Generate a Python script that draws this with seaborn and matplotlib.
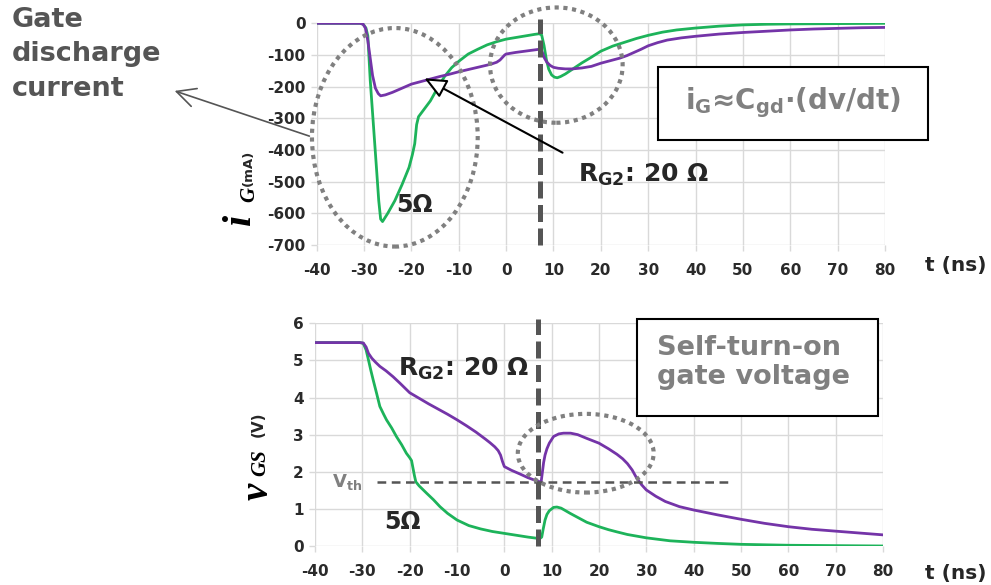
import matplotlib
matplotlib.use("Agg")
import matplotlib.pyplot as plt
import seaborn as sns
import pandas as pd
from matplotlib.patches import Ellipse, Rectangle, FancyArrowPatch

# ---- gate current i_G (mA) ----
t_ig_5 = [-40, -30.8, -30.2, -29.6, -29.2, -28.7, -28.0, -27.3, -26.9, -26.5, -26.1, -25.0,
          -23.5, -22.0, -20.5, -19.8, -19.3, -18.9, -18.5, -17.5, -16.0, -14.5, -13.0, -11.5,
          -10.0, -8.0, -6.0, -4.0, -2.0, 0.0, 2.0, 4.0, 6.0, 7.0, 7.5, 8.0, 8.5, 9.0, 9.6,
          10.2, 10.8, 11.5, 12.5, 14.0, 16.0, 18.0, 20.0, 22.5, 25.0, 27.5, 30.0, 33, 36, 40,
          45, 50, 55, 60, 70, 80]
ig_5 = [0, 0, -3, -15, -40, -179, -326, -474, -560, -618, -626, -600, -560, -510, -455,
        -415, -380, -320, -295, -275, -245, -205, -168, -140, -120, -97, -82, -68, -58, -50,
        -45, -40, -35, -33, -37, -70, -115, -145, -163, -170, -172, -168, -160, -145, -125,
        -107, -88, -72, -60, -48, -38, -28, -21, -15, -9, -5, -3, -2, -1, 0]

t_ig_20 = [-40, -30.8, -30.2, -29.7, -29.2, -28.7, -28.2, -27.6, -27.0, -26.5, -25.5, -24,
           -22, -20, -18, -16, -14, -12, -10, -8, -6, -4, -3, -2, -1.3, -0.8, -0.3, 0, 2, 4,
           6, 7.0, 7.6, 8.1, 8.6, 9.3, 10, 11, 12.5, 14, 16, 18, 20, 22, 24, 25.5, 27, 28.5,
           30, 32, 34, 37, 40, 45, 50, 55, 60, 65, 70, 75, 80]
ig_20 = [0, 0, -3, -15, -55, -110, -165, -205, -222, -229, -226, -218, -205, -192, -184,
         -176, -168, -161, -153, -146, -139, -132, -128, -123, -116, -108, -100, -97, -92,
         -88, -84, -82, -90, -110, -123, -133, -139, -142, -144, -144, -141, -136, -126,
         -118, -110, -102, -92, -82, -71, -61, -53, -46, -41, -34, -29, -25, -21, -18, -16,
         -14, -13]

# ---- gate-source voltage v_GS (V) ----
t_vgs_5 = [-40, -30.5, -29.8, -29.2, -28.7, -28.2, -27.7, -27.0, -26.3, -25.5, -24.9, -23.8,
           -22.8, -21.7, -20.7, -20.0, -19.6, -19.3, -19.0, -18.7, -18.0, -17.2, -16.4, -15.0,
           -13.6, -12.0, -10.0, -7.5, -5.0, -2.5, 0, 2.5, 5.0, 6.8, 7.5, 7.9, 8.2, 8.6, 9.0,
           9.5, 10.4, 11.1, 12.0, 13.9, 15.5, 17.4, 20, 22, 23.8, 26, 30, 35, 40, 45, 50, 60,
           70, 80]
vgs_5 = [5.48, 5.48, 5.46, 5.28, 5.01, 4.73, 4.47, 4.12, 3.76, 3.55, 3.40, 3.18, 2.95, 2.73,
         2.50, 2.38, 2.30, 2.10, 1.90, 1.73, 1.62, 1.52, 1.42, 1.25, 1.06, 0.88, 0.70, 0.55,
         0.46, 0.39, 0.34, 0.29, 0.24, 0.21, 0.20, 0.24, 0.45, 0.70, 0.85, 0.95, 1.04, 1.05,
         1.02, 0.88, 0.77, 0.64, 0.52, 0.44, 0.38, 0.31, 0.22, 0.14, 0.10, 0.07, 0.045, 0.02,
         0.01, 0.0]

t_vgs_20 = [-40, -30.5, -29.8, -29.2, -28.7, -28.0, -27.2, -26.3, -25, -23.5, -22, -20, -18,
            -16, -14, -12, -10, -8, -6, -4, -3, -2, -1.3, -0.8, -0.4, 0, 1.5, 3.3, 5, 6.5,
            7.4, 7.8, 8.0, 8.3, 8.6, 9.0, 9.5, 10.4, 11.5, 12.5, 14, 15.5, 17.4, 20, 22, 23.8,
            25, 26, 27, 28, 29, 30, 32, 34, 37, 40, 45, 50, 55, 60, 65, 70, 75, 80]
vgs_20 = [5.48, 5.48, 5.47, 5.36, 5.19, 5.06, 4.95, 4.84, 4.72, 4.56, 4.38, 4.13, 3.98, 3.83,
          3.69, 3.55, 3.40, 3.24, 3.07, 2.88, 2.78, 2.67, 2.57, 2.45, 2.28, 2.14, 2.04, 1.94,
          1.84, 1.77, 1.73, 1.75, 1.95, 2.25, 2.45, 2.62, 2.77, 2.95, 3.02, 3.04, 3.04, 3.00,
          2.90, 2.77, 2.62, 2.47, 2.35, 2.22, 2.05, 1.82, 1.65, 1.51, 1.34, 1.20, 1.06, 0.97,
          0.84, 0.72, 0.61, 0.52, 0.45, 0.40, 0.35, 0.30]

x_ticks = list(range(-40, 81, 10))
ig_ticks = list(range(-700, 1, 100))
vgs_ticks = list(range(0, 7))

switch_t = 7.2      # time of the switching event (ns)
v_th = 1.73         # threshold voltage (V)

GREEN = "#1db35a"
PURPLE = "#7434a8"
DARK = "#555555"
GREY = "#808080"
GRID = "#d9d9d9"

sns.set_theme(style="whitegrid")
plt.rcParams["font.family"] = ["DejaVu Sans"]
plt.rcParams["mathtext.fontset"] = "dejavusans"
plt.rcParams["axes.unicode_minus"] = False

W, H = 991, 585
fig = plt.figure(figsize=(W / 100, H / 100), dpi=100)
fig.patch.set_facecolor("white")


def box(l, t, r, b):
    return [l / W, 1 - b / H, (r - l) / W, (b - t) / H]


def P(x, y):
    return (x / W, 1 - y / H)


ax1 = fig.add_axes(box(316.7, 23.3, 885, 245))
ax2 = fig.add_axes(box(315, 323.3, 883, 546))

df_ig = pd.concat([
    pd.DataFrame({"t": t_ig_5, "v": ig_5, "R": "5"}),
    pd.DataFrame({"t": t_ig_20, "v": ig_20, "R": "20"}),
])
df_vgs = pd.concat([
    pd.DataFrame({"t": t_vgs_5, "v": vgs_5, "R": "5"}),
    pd.DataFrame({"t": t_vgs_20, "v": vgs_20, "R": "20"}),
])

for ax, df in ((ax1, df_ig), (ax2, df_vgs)):
    sns.lineplot(data=df, x="t", y="v", hue="R", palette={"5": GREEN, "20": PURPLE},
                 hue_order=["5", "20"], estimator=None, sort=False, lw=2.0, ax=ax,
                 legend=False, zorder=3)
    ax.set_xlim(-40, 80)
    ax.set_xticks(x_ticks)
    ax.set_xlabel("")
    ax.set_ylabel("")
    ax.set_facecolor("white")
    ax.grid(True, color=GRID, lw=1.0)
    for s in ax.spines.values():
        s.set_visible(False)
    ax.tick_params(axis="both", which="both", length=4, width=1, color=GRID,
                   labelsize=11, labelcolor="#2a2a2a")
    ax.tick_params(axis="x", pad=9, bottom=True)
    ax.tick_params(axis="y", pad=4, left=True)

ax1.set_ylim(-700, 0)
ax1.set_yticks(ig_ticks)
ax2.set_ylim(0, 6)
ax2.set_yticks(vgs_ticks)
for ax in (ax1, ax2):
    for lab in ax.get_xticklabels() + ax.get_yticklabels():
        lab.set_fontweight("bold")

# switching instant
for ax in (ax1, ax2):
    ax.axvline(switch_t, ymin=0, ymax=1.02, color=DARK, lw=3.6, ls=(0, (3.4, 1.3)),
               clip_on=False, zorder=6)

# threshold voltage level
ax2.plot([-27, 48], [v_th, v_th], color=DARK, lw=1.8, ls=(0, (3.5, 2.2)), zorder=4)

# dotted highlight ellipses
dot = dict(fill=False, ec=GREY, lw=3.0, ls=(0, (1, 1.1)), clip_on=False, zorder=7)
ax1.add_patch(Ellipse((-23.5, -360), 35, 690, **dot))
ax1.add_patch(Ellipse((10.6, -132), 28, 364, **dot))
ax2.add_patch(Ellipse((17.2, 2.50), 28.7, 2.12, **dot))

# axis titles
serif = dict(family="Liberation Serif", weight="bold", style="italic", rotation=90,
             ha="center", va="center", color="black")
fig.text(*P(240, 219), "i", fontsize=29, **serif)
fig.text(*P(249, 194), "G", fontsize=15, **serif)
fig.text(*P(248, 168), "(mA)", fontsize=9.5, fontweight="bold", rotation=90,
         ha="center", va="center")
fig.text(*P(258, 491), "v", fontsize=28, **serif)
fig.text(*P(260, 463), "GS", fontsize=15, **serif)
fig.text(*P(258, 424), "(V)", fontsize=11, fontweight="bold", rotation=90,
         ha="center", va="center")

for y in (266, 573):
    fig.text(*P(956, y), "t (ns)", fontsize=14.5, fontweight="bold", ha="center", va="center")

# top panel annotations
fig.text(*P(12, 27), "Gate", fontsize=19.5, fontweight="bold", color=DARK, va="baseline")
fig.text(*P(12, 61), "discharge", fontsize=19.5, fontweight="bold", color=DARK, va="baseline")
fig.text(*P(12, 96), "current", fontsize=19.5, fontweight="bold", color=DARK, va="baseline")
fig.add_artist(FancyArrowPatch(P(312, 137), P(172, 90), transform=fig.transFigure,
                               arrowstyle="->,head_length=0.9,head_width=0.45",
                               mutation_scale=15, color=DARK, lw=1.2, zorder=8))

fig.text(*P(578, 182), r"R$_{\mathbf{G2}}$: 20 Ω", fontsize=18, fontweight="bold",
         va="baseline", ha="left")
fig.add_artist(FancyArrowPatch(P(565, 154), P(422, 77), transform=fig.transFigure,
                               arrowstyle="-|>,head_length=0.9,head_width=0.4",
                               mutation_scale=15, ec="black", fc="white", lw=1.5, zorder=8))
fig.text(*P(414, 205), "5Ω", fontsize=17, fontweight="bold", ha="center", va="center")

fig.add_artist(Rectangle(P(658, 140), (928 - 658) / W, (140 - 67) / H,
                         transform=fig.transFigure, fill=True, fc="white", ec="black",
                         lw=1.5, zorder=8))
fig.text(*P(793, 103), r"i$_{\mathbf{G}}$≈C$_{\mathbf{gd}}$·(dv/dt)", fontsize=20,
         fontweight="bold", color=GREY, ha="center", va="center", zorder=9)

# bottom panel annotations
fig.text(*P(398, 376), r"R$_{\mathbf{G2}}$: 20 Ω", fontsize=18, fontweight="bold",
         va="baseline", ha="left")
fig.text(*P(402, 522), "5Ω", fontsize=17, fontweight="bold", ha="center", va="center")
fig.text(*P(332, 487), r"V$_{\mathregular{th}}$", fontsize=13, fontweight="bold",
         color=GREY, va="baseline", ha="left")

fig.add_artist(Rectangle(P(637, 416), (878 - 637) / W, (416 - 319) / H,
                         transform=fig.transFigure, fill=True, fc="white", ec="black",
                         lw=1.5, zorder=8))
fig.text(*P(657, 355), "Self-turn-on", fontsize=19.5, fontweight="bold", color=GREY,
         va="baseline", ha="left", zorder=9)
fig.text(*P(657, 384), "gate voltage", fontsize=19.5, fontweight="bold", color=GREY,
         va="baseline", ha="left", zorder=9)

fig.savefig("out.png", dpi=100, facecolor="white")
